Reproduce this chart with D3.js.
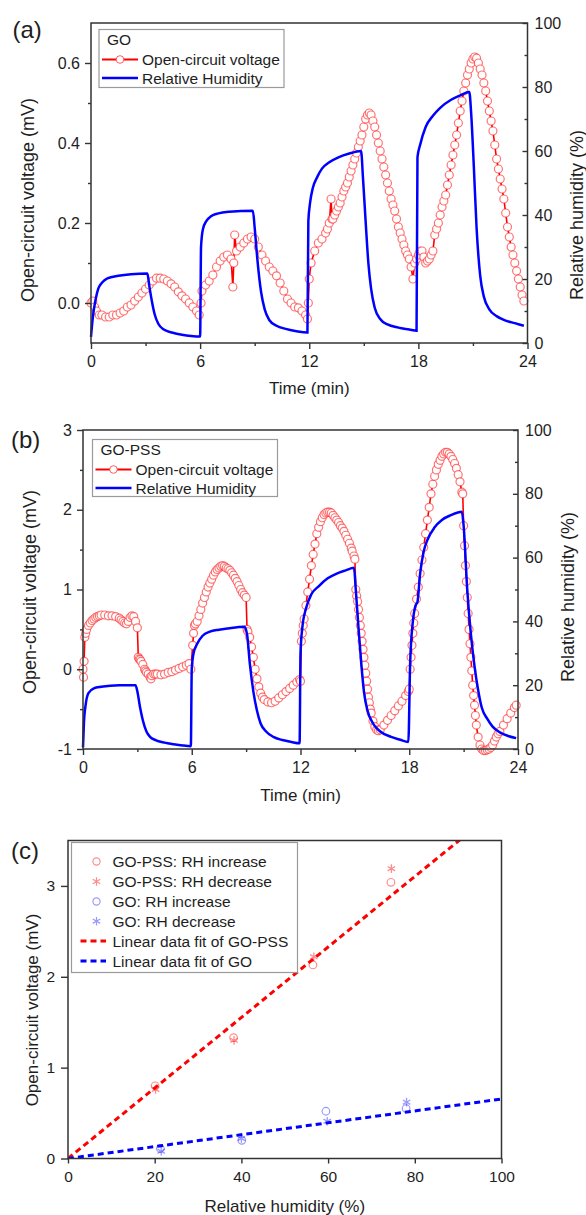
<!DOCTYPE html>
<html>
<head>
<meta charset="utf-8">
<title>Open-circuit voltage vs humidity</title>
<script src="https://cdnjs.cloudflare.com/ajax/libs/d3/7.8.5/d3.min.js"></script>
<style>
  html, body { margin: 0; padding: 0; background: #fff; }
  svg { display: block; }
</style>
</head>
<body>
<svg width="586" height="1215" id="mainsvg"></svg>
<script>
// ---------- (a) GO : time traces ----------
const goTime = [0.0,0.1,0.2,0.3,0.45,0.6,0.8,1.0,1.2,1.4,1.6,1.8,2.0,2.2,2.4,2.6,2.8,3.0,3.2,3.4,3.6,3.8,4.0,4.2,4.4,4.6,4.8,5.0,5.2,5.4,5.6,5.8,5.95,
  6.05,6.1,6.3,6.5,6.7,6.9,7.1,7.3,7.5,7.7,7.8,7.85,7.9,8.0,8.2,8.4,8.6,8.8,9.0,9.2,9.4,9.6,9.8,10.0,10.2,10.4,10.6,10.8,11.0,11.2,11.4,11.6,11.8,11.9,
  11.95,12.0,12.1,12.3,12.5,12.7,12.9,13.0,13.1,13.2,13.25,13.3,13.4,13.5,13.6,13.7,13.8,13.9,14.0,14.1,14.2,14.3,14.4,14.5,14.6,14.7,14.8,14.9,15.0,
  15.1,15.2,15.3,15.4,15.5,15.6,15.7,15.8,15.9,16.0,16.1,16.2,16.3,16.4,16.5,16.6,16.7,16.8,16.9,17.0,17.1,17.2,17.3,17.4,17.5,17.6,17.7,
  17.8,17.9,18.0,18.1,18.2,18.3,18.4,18.5,18.6,18.7,18.8,18.9,19.0,19.1,19.2,19.3,19.4,19.5,19.6,19.7,19.8,19.9,20.0,20.1,20.2,20.3,20.4,20.5,20.6,20.7,20.8,20.9,
  21.0,21.1,21.2,21.3,21.4,21.5,21.6,21.7,21.8,21.9,22.0,22.1,22.2,22.3,22.4,22.5,22.6,22.7,22.8,22.9,23.0,23.1,23.2,23.3,23.4,23.5,23.6,23.7,23.8];
const goVoltage = [0.0,0.005,-0.01,-0.02,-0.03,-0.03,-0.035,-0.035,-0.03,-0.03,-0.025,-0.02,-0.01,-0.005,0.005,0.015,0.025,0.035,0.045,0.055,0.062,0.062,0.06,0.055,0.048,0.04,0.028,0.018,0.01,0.0,-0.01,-0.02,-0.03,
  0.0,0.03,0.045,0.055,0.07,0.09,0.105,0.115,0.12,0.11,0.04,0.10,0.17,0.13,0.14,0.15,0.16,0.165,0.16,0.14,0.12,0.105,0.09,0.08,0.068,0.05,0.03,0.01,0.0,-0.01,-0.012,-0.02,-0.03,-0.04,
  0.0,0.06,0.1,0.13,0.15,0.16,0.175,0.185,0.2,0.26,0.21,0.21,0.22,0.23,0.24,0.25,0.265,0.28,0.29,0.3,0.315,0.33,0.345,0.36,0.375,0.39,0.405,0.42,0.44,
  0.46,0.47,0.475,0.47,0.455,0.44,0.42,0.4,0.38,0.36,0.34,0.32,0.3,0.28,0.26,0.245,0.23,0.21,0.19,0.175,0.16,0.145,0.13,0.12,0.11,0.09,0.06,
  0.1,0.11,0.12,0.13,0.13,0.115,0.1,0.105,0.11,0.12,0.13,0.17,0.185,0.2,0.22,0.24,0.255,0.27,0.295,0.32,0.345,0.37,0.395,0.42,0.45,0.48,0.505,0.53,0.55,0.57,0.585,0.6,
  0.61,0.615,0.612,0.6,0.585,0.57,0.55,0.53,0.505,0.48,0.455,0.43,0.395,0.36,0.335,0.31,0.285,0.26,0.225,0.19,0.165,0.14,0.12,0.1,0.08,0.06,0.04,0.02,0.005];
const goRhTime = [0.0,0.1,0.25,0.4,0.6,0.9,1.5,2.2,3.1,3.2,3.35,3.5,3.7,4.0,4.5,5.0,5.5,6.0,
  6.05,6.15,6.35,6.6,7.0,7.6,8.9,9.0,9.15,9.35,9.55,9.8,10.2,10.7,11.3,11.9,
  11.95,12.05,12.2,12.45,12.7,13.1,13.6,14.2,14.85,14.95,15.1,15.25,15.4,15.6,15.9,16.3,16.9,17.5,17.9,
  17.95,18.1,18.4,18.8,19.2,19.8,20.3,20.8,20.9,21.05,21.2,21.4,21.6,21.9,22.3,22.8,23.3,23.8];
const goRh = [1.9,8,13.5,17,18.8,20.2,21.0,21.5,21.7,18,13,9,6,4.2,3.2,2.6,2.2,2.0,
  30,35.5,38.2,39.6,40.5,41,41.3,36,26,16,10.5,7.2,5.4,4.4,3.7,3.3,
  38,44,48.5,52,54.5,56.5,58,59.2,60,52,38,25,17,11,7.5,5.8,4.8,4.2,3.8,
  58,62,67.5,71,73.5,76,77.4,78.4,72,55,36,21,14.5,10.5,8.4,7,6.2,5.4];

// ---------- (b) GO-PSS : time traces ----------
const pssTime = [0.0,0.03,0.06,0.1,0.15,0.2,0.3,0.4,0.5,0.6,0.7,0.8,0.9,1.0,1.2,1.4,1.6,1.8,2.0,2.1,2.2,2.3,2.4,2.5,2.6,2.7,2.8,2.9,3.0,
  3.05,3.1,3.15,3.2,3.3,3.4,3.45,3.5,3.6,3.7,3.75,3.8,3.9,4.0,4.1,4.3,4.5,4.7,4.9,5.1,5.3,5.5,5.7,5.85,5.95,
  6.05,6.1,6.15,6.2,6.3,6.4,6.5,6.6,6.7,6.8,6.9,7.0,7.1,7.2,7.3,7.4,7.5,7.6,7.7,7.8,7.9,8.0,8.1,8.2,8.3,8.4,8.5,8.6,8.7,8.8,8.9,9.0,
  9.05,9.1,9.2,9.3,9.4,9.5,9.6,9.7,9.8,9.9,10.0,10.2,10.4,10.6,10.8,11.0,11.2,11.4,11.6,11.8,11.95,
  12.0,12.05,12.1,12.15,12.2,12.3,12.4,12.5,12.6,12.7,12.8,12.9,13.0,13.1,13.2,13.3,13.4,13.5,13.6,13.7,13.8,13.9,14.0,14.1,14.2,14.3,14.4,14.5,14.6,14.7,14.8,14.85,14.95,15.0,
  15.05,15.1,15.15,15.2,15.25,15.3,15.35,15.4,15.45,15.5,15.55,15.6,15.65,15.7,15.75,15.8,15.85,15.9,16.0,16.1,16.2,16.3,16.4,16.6,16.8,17.0,17.2,17.4,17.6,17.8,17.95,
  18.0,18.05,18.1,18.15,18.2,18.25,18.3,18.4,18.5,18.6,18.7,18.8,18.9,19.0,19.1,19.2,19.3,19.4,19.5,19.6,19.7,19.8,19.9,20.0,20.1,20.2,20.3,20.4,20.5,20.6,20.7,20.8,20.9,20.95,
  21.0,21.05,21.1,21.15,21.2,21.25,21.3,21.35,21.4,21.45,21.5,21.55,21.6,21.65,21.7,21.8,21.9,22.0,22.1,22.2,22.3,22.4,22.5,22.6,22.7,22.8,22.9,23.0,23.2,23.4,23.6,23.8,23.9];
const pssVoltage = [0.0,-0.1,0.1,0.4,0.45,0.5,0.55,0.58,0.61,0.63,0.65,0.66,0.67,0.68,0.68,0.67,0.67,0.66,0.64,0.62,0.6,0.58,0.57,0.6,0.65,0.67,0.66,0.6,0.52,
  0.15,0.13,0.12,0.1,0.06,0.0,-0.02,-0.04,-0.06,-0.1,-0.12,-0.08,-0.06,-0.06,-0.06,-0.07,-0.06,-0.04,-0.03,-0.01,0.01,0.03,0.05,0.07,0.0,
  0.3,0.45,0.55,0.57,0.6,0.67,0.75,0.83,0.9,0.97,1.03,1.08,1.13,1.18,1.22,1.25,1.27,1.29,1.3,1.29,1.27,1.26,1.24,1.21,1.18,1.14,1.1,1.05,1.0,0.96,0.93,0.9,
  0.5,0.47,0.4,0.28,0.15,0.0,-0.12,-0.22,-0.3,-0.35,-0.38,-0.41,-0.42,-0.4,-0.36,-0.32,-0.28,-0.24,-0.2,-0.16,-0.13,
  -0.15,0.35,0.45,0.55,0.63,0.8,0.97,1.13,1.3,1.44,1.57,1.7,1.78,1.85,1.9,1.94,1.96,1.97,1.97,1.96,1.93,1.9,1.87,1.84,1.8,1.77,1.73,1.68,1.63,1.58,1.52,1.48,1.42,1.38,
  1.0,0.92,0.85,0.75,0.65,0.55,0.45,0.35,0.25,0.15,0.05,-0.05,-0.15,-0.25,-0.35,-0.42,-0.5,-0.55,-0.65,-0.72,-0.76,-0.77,-0.76,-0.7,-0.64,-0.58,-0.52,-0.46,-0.4,-0.33,-0.28,
  -0.25,0.0,0.15,0.3,0.45,0.58,0.7,0.88,1.03,1.2,1.37,1.53,1.7,1.87,2.03,2.2,2.32,2.42,2.5,2.57,2.62,2.67,2.7,2.72,2.72,2.7,2.67,2.63,2.58,2.52,2.44,2.35,2.22,2.2,
  1.8,1.55,1.3,1.1,0.9,0.7,0.5,0.32,0.15,-0.02,-0.2,-0.33,-0.45,-0.58,-0.7,-0.85,-0.95,-1.0,-1.02,-1.02,-1.01,-1.0,-0.98,-0.95,-0.9,-0.85,-0.81,-0.78,-0.7,-0.62,-0.55,-0.48,-0.45];
const pssRhTime = [0.0,0.05,0.15,0.3,0.6,1.0,2.0,2.9,3.0,3.15,3.3,3.5,3.7,4.0,4.5,5.0,5.5,5.95,
  6.0,6.1,6.3,6.6,7.0,7.5,8.0,8.9,9.05,9.2,9.4,9.6,9.8,10.1,10.5,11.0,11.5,11.95,
  12.0,12.1,12.3,12.6,13.0,13.5,14.0,14.5,14.95,15.05,15.2,15.35,15.5,15.7,16.0,16.4,17.0,17.5,17.95,
  18.05,18.2,18.35,18.45,18.6,18.8,19.0,19.4,19.8,20.3,20.9,21.0,21.2,21.4,21.6,21.8,22.0,22.3,22.6,23.0,23.5,23.9];
const pssRh = [0.5,8,14,17.5,19,19.5,20,20,18,13,9,5.5,3.8,2.8,2.0,1.5,1.1,0.9,
  25,30,33,35.5,36.8,37.4,37.8,38.3,36,27,18,12,8,5.5,3.8,2.8,2.2,1.8,
  30,38,44,48.5,51,53.5,55,56,56.8,50,38,27,18,12,8,5.5,3.8,2.9,2.2,
  27,40,45,46,55,62,65.5,69.5,71.8,73.3,74.4,70,50,36,26,18.5,13,9.5,7,5.2,4,3.4];

// ---------- (c) voltage vs RH ----------
const pssIncRh = [20.1, 38.2, 56.5, 74.5];
const pssIncV = [0.80, 1.33, 2.13, 3.04];
const pssDecRh = [20.2, 38.3, 56.7, 74.6];
const pssDecV = [0.76, 1.30, 2.22, 3.19];
const goIncRh = [21.3, 40.1, 59.5, 78.0];
const goIncV = [0.11, 0.20, 0.52, 0.55];
const goDecRh = [21.5, 40.0, 59.8, 78.1];
const goDecV = [0.08, 0.22, 0.41, 0.62];
const fitRh = [0, 100];
const fitPss = [0, 3.88];
const fitGo = [0, 0.655];

const timeTicks = [0, 6, 12, 18, 24];
const timeMinor = [3, 9, 15, 21];
const rhTicks = [0, 20, 40, 60, 80, 100];
const rhMinor = [10, 30, 50, 70, 90];

// ---------- drawing ----------
const svg = d3.select('#mainsvg');
const font = '"Liberation Sans", Arial, Helvetica, sans-serif';
const ink = '#1e1e1e';
const frame = '#333';

svg.append('rect').attr('width', 586).attr('height', 1215).attr('fill', '#fff');

function addAxis(g, axis, tx, ty, size) {
  const a = g.append('g').attr('transform', `translate(${tx},${ty})`).call(axis);
  a.select('.domain').remove();
  a.selectAll('line').attr('stroke', frame).attr('stroke-width', 1.4);
  a.selectAll('text').attr('fill', ink).attr('font-size', size).attr('font-family', font);
  return a;
}

function addText(g, txt, x, y, size, opts = {}) {
  const t = g.append('text').text(txt)
    .attr('font-family', font).attr('font-size', size).attr('fill', ink)
    .attr('text-anchor', opts.anchor || 'start');
  if (opts.rotate) {
    t.attr('transform', `translate(${x},${y}) rotate(-90)`).attr('dy', '0.35em');
  } else {
    t.attr('x', x).attr('y', y);
  }
  return t;
}

function drawTimePanel(p) {
  const g = svg.append('g');
  const x = d3.scaleLinear().domain([0, 24]).range([p.left, p.right]);
  const yV = d3.scaleLinear().domain(p.vDomain).range([p.bottom, p.top]);
  const yRh = d3.scaleLinear().domain([0, 100]).range([p.bottom, p.top]);

  const ocv = p.time.map((t, i) => [t, p.volt[i]]);
  g.append('path').datum(ocv)
    .attr('d', d3.line().x(d => x(d[0])).y(d => yV(d[1])))
    .attr('fill', 'none').attr('stroke', '#ff0000').attr('stroke-width', 1.6);
  g.selectAll('circle.ocv').data(ocv).join('circle').attr('class', 'ocv')
    .attr('cx', d => x(d[0])).attr('cy', d => yV(d[1])).attr('r', 4)
    .attr('fill', '#fff').attr('stroke', 'rgba(255,30,30,0.62)').attr('stroke-width', 1.2);

  const rh = p.rhTime.map((t, i) => [t, p.rh[i]]);
  g.append('path').datum(rh)
    .attr('d', d3.line().curve(d3.curveMonotoneX).x(d => x(d[0])).y(d => yRh(d[1])))
    .attr('fill', 'none').attr('stroke', '#0000ff').attr('stroke-width', 2.5);

  g.append('rect').attr('x', p.left).attr('y', p.top)
    .attr('width', p.right - p.left).attr('height', p.bottom - p.top)
    .attr('fill', 'none').attr('stroke', frame).attr('stroke-width', 1.5);

  addAxis(g, d3.axisBottom(x).tickValues(timeMinor).tickSize(3).tickFormat(''), 0, p.bottom, 16);
  addAxis(g, d3.axisBottom(x).tickValues(timeTicks).tickSize(6).tickPadding(7), 0, p.bottom, 16);
  addAxis(g, d3.axisLeft(yV).tickValues(p.vMinor).tickSize(3).tickFormat(''), p.left, 0, 16);
  addAxis(g, d3.axisLeft(yV).tickValues(p.vTicks).tickSize(6).tickPadding(5).tickFormat(p.vFormat), p.left, 0, 16);
  addAxis(g, d3.axisRight(yRh).tickValues(rhMinor).tickSize(-3).tickFormat(''), p.right, 0, 16);
  addAxis(g, d3.axisRight(yRh).tickValues(rhTicks).tickSize(-5).tickPadding(7), p.right, 0, 16);

  addText(g, p.label, p.labelX, p.labelY, 24);
  addText(g, 'Time (min)', (p.left + p.right) / 2, p.xTitleY, 17, {anchor: 'middle'});
  addText(g, 'Open-circuit voltage (mV)', p.yTitleX, p.yTitleY, p.yTitleSize, {anchor: 'middle', rotate: true});
  addText(g, 'Relative humidity (%)', p.y2TitleX, p.y2TitleY, p.yTitleSize, {anchor: 'middle', rotate: true});

  // legend
  const L = p.legend;
  g.append('rect').attr('x', L.x).attr('y', L.y).attr('width', L.w).attr('height', L.h)
    .attr('fill', '#fff').attr('stroke', '#9a9a9a').attr('stroke-width', 1.2);
  addText(g, p.name, L.x + 8, L.y + 15, 15.5);
  const r1 = L.y + 30, r2 = L.y + 48.5;
  g.append('line').attr('x1', L.x + 3).attr('x2', L.x + 39).attr('y1', r1).attr('y2', r1)
    .attr('stroke', '#ff0000').attr('stroke-width', 2);
  g.append('circle').attr('cx', L.x + 21).attr('cy', r1).attr('r', 3.8)
    .attr('fill', '#fff').attr('stroke', 'rgba(255,30,30,0.7)').attr('stroke-width', 1);
  addText(g, 'Open-circuit voltage', L.x + 43, r1 + 5.5, 15.5);
  g.append('line').attr('x1', L.x + 3).attr('x2', L.x + 39).attr('y1', r2).attr('y2', r2)
    .attr('stroke', '#0000ff').attr('stroke-width', 2.5);
  addText(g, 'Relative Humidity', L.x + 43, r2 + 5.5, 15.5);
}

drawTimePanel({
  left: 91, right: 527.5, top: 23, bottom: 343,
  vDomain: [-0.1, 0.7], vTicks: [0, 0.2, 0.4, 0.6], vMinor: [0.1, 0.3, 0.5], vFormat: d3.format('.1f'),
  time: goTime, volt: goVoltage, rhTime: goRhTime, rh: goRh,
  label: '(a)', labelX: 12.5, labelY: 38, name: 'GO',
  xTitleY: 394, yTitleX: 28, yTitleY: 200, y2TitleX: 577, y2TitleY: 215, yTitleSize: 18,
  legend: {x: 99, y: 29.5, w: 185, h: 58}
});

drawTimePanel({
  left: 83, right: 518, top: 430, bottom: 749,
  vDomain: [-1, 3], vTicks: [-1, 0, 1, 2, 3], vMinor: [-0.5, 0.5, 1.5, 2.5], vFormat: d => String(d),
  time: pssTime, volt: pssVoltage, rhTime: pssRhTime, rh: pssRh,
  label: '(b)', labelX: 11, labelY: 447.5, name: 'GO-PSS',
  xTitleY: 801, yTitleX: 30, yTitleY: 592, y2TitleX: 568, y2TitleY: 597, yTitleSize: 18,
  legend: {x: 92.5, y: 439.5, w: 185, h: 57}
});

// ---------- (c) ----------
(function () {
  const left = 68, right = 501.5, top = 840.5, bottom = 1158.5;
  const g = svg.append('g');
  const x = d3.scaleLinear().domain([0, 100]).range([left, right]);
  const y = d3.scaleLinear().domain([0, 3.5]).range([bottom, top]);

  svg.append('clipPath').attr('id', 'clipc').append('rect')
    .attr('x', left).attr('y', top).attr('width', right - left).attr('height', bottom - top);

  const fitLine = d3.line().x(d => x(d[0])).y(d => y(d[1]));
  g.append('path').datum(fitRh.map((r, i) => [r, fitPss[i]])).attr('d', fitLine)
    .attr('clip-path', 'url(#clipc)').attr('fill', 'none').attr('stroke', '#ff0000')
    .attr('stroke-width', 3).attr('stroke-dasharray', '6,4');
  g.append('path').datum(fitRh.map((r, i) => [r, fitGo[i]])).attr('d', fitLine)
    .attr('clip-path', 'url(#clipc)').attr('fill', 'none').attr('stroke', '#0000ff')
    .attr('stroke-width', 3).attr('stroke-dasharray', '6,4');

  const redSoft = 'rgba(255,0,0,0.45)', blueSoft = 'rgba(0,0,255,0.4)';
  const star = d3.symbol().type(d3.symbolAsterisk).size(52);
  function circles(rhs, vs, color) {
    g.append('g').selectAll('circle').data(rhs.map((r, i) => [r, vs[i]])).join('circle')
      .attr('cx', d => x(d[0])).attr('cy', d => y(d[1])).attr('r', 3.8)
      .attr('fill', 'none').attr('stroke', color).attr('stroke-width', 1.2);
  }
  function stars(rhs, vs, color) {
    g.append('g').selectAll('path').data(rhs.map((r, i) => [r, vs[i]])).join('path')
      .attr('transform', d => `translate(${x(d[0])},${y(d[1])})`).attr('d', star)
      .attr('fill', 'none').attr('stroke', color).attr('stroke-width', 1.3);
  }
  circles(pssIncRh, pssIncV, redSoft);
  stars(pssDecRh, pssDecV, redSoft);
  circles(goIncRh, goIncV, blueSoft);
  stars(goDecRh, goDecV, blueSoft);

  g.append('rect').attr('x', left).attr('y', top).attr('width', right - left).attr('height', bottom - top)
    .attr('fill', 'none').attr('stroke', frame).attr('stroke-width', 1.5);

  addAxis(g, d3.axisBottom(x).tickValues([0, 20, 40, 60, 80, 100]).tickSize(5).tickPadding(7), 0, bottom, 15.5);
  addAxis(g, d3.axisLeft(y).tickValues([0, 1, 2, 3]).tickSize(7).tickPadding(6).tickFormat(d => String(d)), left, 0, 15.5);

  addText(g, '(c)', 11, 859, 24);
  addText(g, 'Relative humidity (%)', (left + right) / 2, 1212, 17, {anchor: 'middle'});
  addText(g, 'Open-circuit voltage (mV)', 32, 1010, 17, {anchor: 'middle', rotate: true});

  // legend
  const lx = 71.5, ly = 842.5;
  g.append('rect').attr('x', lx).attr('y', ly).attr('width', 226).attr('height', 130)
    .attr('fill', '#fff').attr('stroke', '#9a9a9a').attr('stroke-width', 1.2);
  const rows = [861.5, 881.5, 901.5, 921.2, 941, 961];
  const names = ['GO-PSS: RH increase', 'GO-PSS: RH decrease', 'GO: RH increase', 'GO: RH decrease',
    'Linear data fit of GO-PSS', 'Linear data fit of GO'];
  g.append('circle').attr('cx', 96.5).attr('cy', rows[0]).attr('r', 3.6)
    .attr('fill', 'none').attr('stroke', redSoft).attr('stroke-width', 1.2);
  g.append('path').attr('transform', `translate(96.5,${rows[1]})`).attr('d', star)
    .attr('fill', 'none').attr('stroke', redSoft).attr('stroke-width', 1.2);
  g.append('circle').attr('cx', 96.5).attr('cy', rows[2]).attr('r', 3.6)
    .attr('fill', 'none').attr('stroke', blueSoft).attr('stroke-width', 1.2);
  g.append('path').attr('transform', `translate(96.5,${rows[3]})`).attr('d', star)
    .attr('fill', 'none').attr('stroke', blueSoft).attr('stroke-width', 1.2);
  g.append('line').attr('x1', 80.5).attr('x2', 106).attr('y1', rows[4]).attr('y2', rows[4])
    .attr('stroke', '#ff0000').attr('stroke-width', 3).attr('stroke-dasharray', '6,4');
  g.append('line').attr('x1', 80.5).attr('x2', 106).attr('y1', rows[5]).attr('y2', rows[5])
    .attr('stroke', '#0000ff').attr('stroke-width', 3).attr('stroke-dasharray', '6,4');
  names.forEach((n, i) => addText(g, n, 112.5, rows[i] + 5.5, 15.5));
})();
</script>
</body>
</html>
